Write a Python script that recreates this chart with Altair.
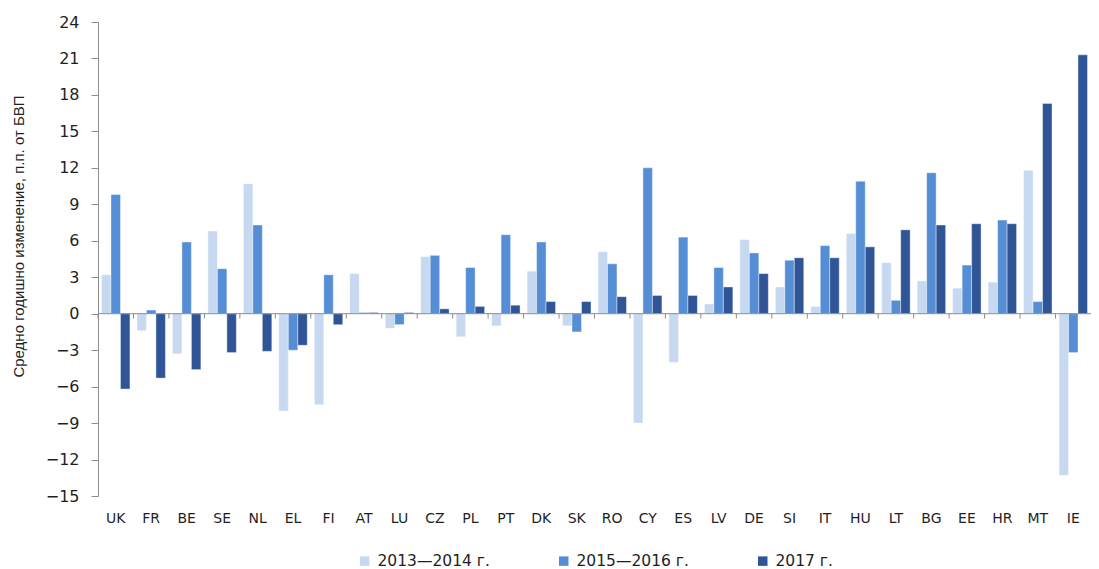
import altair as alt
import pandas as pd

countries = ["UK", "FR", "BE", "SE", "NL", "EL", "FI", "AT", "LU", "CZ", "PL", "PT", "DK", "SK",
             "RO", "CY", "ES", "LV", "DE", "SI", "IT", "HU", "LT", "BG", "EE", "HR", "MT", "IE"]
series_names = ["2013—2014 г.", "2015—2016 г.", "2017 г."]
v_2013_2014 = [3.2, -1.4, -3.3, 6.8, 10.7, -8.0, -7.5, 3.3, -1.2, 4.7, -1.9, -1.0, 3.5, -1.0,
               5.1, -9.0, -4.0, 0.8, 6.1, 2.2, 0.6, 6.6, 4.2, 2.7, 2.1, 2.6, 11.8, -13.3]
v_2015_2016 = [9.8, 0.3, 5.9, 3.7, 7.3, -3.0, 3.2, 0.1, -0.9, 4.8, 3.8, 6.5, 5.9, -1.5,
               4.1, 12.0, 6.3, 3.8, 5.0, 4.4, 5.6, 10.9, 1.1, 11.6, 4.0, 7.7, 1.0, -3.2]
v_2017 = [-6.2, -5.3, -4.6, -3.2, -3.1, -2.6, -0.9, 0.1, 0.1, 0.4, 0.6, 0.7, 1.0, 1.0,
          1.4, 1.5, 1.5, 2.2, 3.3, 4.6, 4.6, 5.5, 6.9, 7.3, 7.4, 7.4, 17.3, 21.3]
y_ticks = list(range(-15, 25, 3))
colors = ["#C6D9F1", "#558ED5", "#2F5597"]

rows = []
for name, vals in zip(series_names, [v_2013_2014, v_2015_2016, v_2017]):
    for c, v in zip(countries, vals):
        rows.append({"country": c, "series": name, "value": v})
df = pd.DataFrame(rows)
ticks_df = pd.DataFrame({"country": countries, "value": [0] * len(countries), "low": [-0.4] * len(countries)})

W, H = 993, 474
AX = "#8C8C8C"
TXT = "#1F1F1F"

x_axis = alt.Axis(title=None, domain=False, ticks=False, labelAngle=0,
                  labelFont="DejaVu Sans", labelFontSize=14, labelColor=TXT,
                  labelPadding=15, labelBaseline="top")
y_axis = alt.Axis(values=y_ticks, grid=False, domainColor=AX, tickColor=AX,
                  tickSize=7, labelPadding=12, labelFont="DejaVu Sans",
                  labelFontSize=16, labelColor=TXT,
                  title="Средно годишно изменение, п.п. от БВП",
                  titleFont="Liberation Sans", titleFontSize=15,
                  titleFontWeight="normal", titleColor=TXT,
                  titleX=-80, titleY=214, titleAngle=270,
                  titleAlign="center", titleBaseline="middle")
y_scale = alt.Scale(domain=[-15, 24], nice=False, zero=False)

bars = alt.Chart(df).mark_bar(stroke="white", strokeWidth=0.8, strokeOpacity=0.5).encode(
    x=alt.X("country:N", sort=countries,
            scale=alt.Scale(paddingInner=0, paddingOuter=0), axis=x_axis),
    xOffset=alt.XOffset("series:N", sort=series_names,
                        scale=alt.Scale(paddingInner=0, paddingOuter=0.37)),
    y=alt.Y("value:Q", scale=y_scale, axis=y_axis),
    color=alt.Color("series:N", sort=series_names,
                    scale=alt.Scale(domain=series_names, range=colors),
                    legend=alt.Legend(orient="none", direction="horizontal",
                                      legendX=259, legendY=531, title=None,
                                      symbolType="square", symbolSize=90,
                                      symbolStrokeWidth=0, labelFont="DejaVu Sans",
                                      labelFontSize=15.5, labelColor=TXT,
                                      labelOffset=5, columnPadding=66)),
)

zero = alt.Chart(ticks_df).mark_rule(color=AX, strokeWidth=1).encode(
    y=alt.Y("value:Q", scale=y_scale, axis=y_axis)
).transform_filter(alt.datum.country == "UK")

cat_ticks = alt.Chart(ticks_df).mark_rule(color=AX, strokeWidth=1).encode(
    x=alt.X("country:N", sort=countries, bandPosition=0, axis=x_axis),
    y=alt.Y("value:Q", scale=y_scale, axis=y_axis),
    y2="low:Q",
)

chart = alt.layer(bars, zero, cat_ticks).properties(
    width=W, height=H,
    background="white",
    autosize=alt.AutoSizeParams(type="none"),
    padding={"left": 90, "top": 14, "right": 0, "bottom": 73},
).configure_view(stroke=None)

chart.save("out.html", embed_options={"renderer": "svg", "actions": False})
